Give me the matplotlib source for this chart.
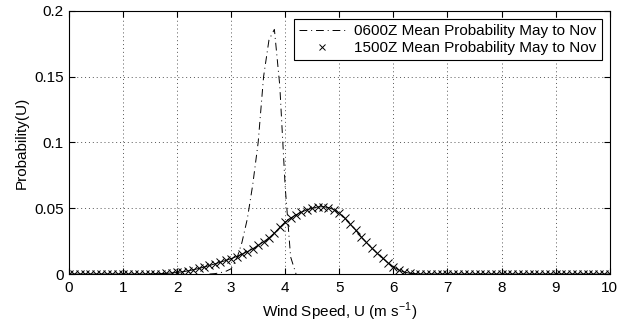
import numpy as np
import matplotlib
matplotlib.use("Agg")
import matplotlib.pyplot as plt
from matplotlib.lines import Line2D

plt.rcParams['font.family'] = ['Liberation Sans', 'DejaVu Sans']
plt.rcParams['mathtext.fontset'] = 'custom'
plt.rcParams['mathtext.rm'] = 'Liberation Sans'

# Wind speed grid (m/s), step 0.1
wind_speed = [round(0.1 * i, 1) for i in range(101)]

# 0600Z mean probability May to Nov (non-zero part, x from 2.6 to 4.2)
u_0600 = [2.6, 2.7, 2.8, 2.9, 3.0, 3.1, 3.2, 3.3, 3.4, 3.5, 3.6, 3.7, 3.8, 3.9, 4.0, 4.1, 4.2]
p_0600 = [0.0, 0.0003, 0.001, 0.002, 0.004, 0.011, 0.024, 0.042, 0.068, 0.100, 0.150, 0.178, 0.186,
          0.143, 0.066, 0.013, 0.0]

# 1500Z mean probability May to Nov (values at every 0.1 m/s)
p_1500 = [0.0] * 16 + [
    0.0002, 0.0003, 0.0005, 0.0008,                    # 1.6-1.9
    0.0012, 0.0017, 0.0024, 0.0032, 0.0042,            # 2.0-2.4
    0.0053, 0.0065, 0.0077, 0.0090, 0.0103,            # 2.5-2.9
    0.0117, 0.0133, 0.0150, 0.0170, 0.0192,            # 3.0-3.4
    0.0218, 0.0245, 0.0275, 0.0312, 0.0355,            # 3.5-3.9
    0.0395, 0.0425, 0.0450, 0.0470, 0.0488,            # 4.0-4.4
    0.0500, 0.0510, 0.0512, 0.0505, 0.0490,            # 4.5-4.9
    0.0462, 0.0425, 0.0380, 0.0335, 0.0285,            # 5.0-5.4
    0.0240, 0.0197, 0.0158, 0.0120, 0.0085,            # 5.5-5.9
    0.0055, 0.0030, 0.0015, 0.0006, 0.0002,            # 6.0-6.4
] + [0.0] * 36

DASHDOT = (0, (8, 4, 1, 4))

fig = plt.figure(figsize=(6.26, 3.22), dpi=100)
ax = fig.add_axes([0.110, 0.149, 0.864, 0.817])

ax.plot(u_0600, p_0600, color='black', linestyle=DASHDOT, linewidth=0.7)
ax.plot(wind_speed, p_1500, color='black', linestyle='-', linewidth=0.7,
        marker='x', markersize=6, markeredgewidth=0.7)

ax.set_xlim(0, 10)
ax.set_ylim(0, 0.2)
ax.set_xticks(range(0, 11))
ax.set_yticks([0, 0.05, 0.1, 0.15, 0.2])
ax.set_yticklabels(['0', '0.05', '0.1', '0.15', '0.2'])
ax.tick_params(direction='in', top=True, right=True, length=4, width=0.8,
               labelsize=11, colors='black')
ax.tick_params(axis='x', pad=5)
ax.grid(True, linestyle=(0, (1, 3)), color='#555555', linewidth=0.7)
for s in ax.spines.values():
    s.set_linewidth(0.8)

ax.set_xlabel('Wind Speed, U (m s$^{-1}$)', fontsize=11, labelpad=4)
ax.set_ylabel('Probability(U)', fontsize=11)

handles = [
    Line2D([], [], color='black', linestyle=DASHDOT, linewidth=0.7),
    Line2D([], [], color='black', linestyle='none', marker='x', markersize=5, markeredgewidth=0.7),
]
labels = ['0600Z Mean Probability May to Nov', '1500Z Mean Probability May to Nov']
leg = ax.legend(handles, labels, loc='upper right', fontsize=11, frameon=True, fancybox=False,
                edgecolor='black', framealpha=1, borderpad=0.35, labelspacing=0.2,
                handlelength=3.0, handletextpad=0.6, borderaxespad=0.5)
leg.get_frame().set_linewidth(0.8)

fig.savefig('out.png', dpi=100)
